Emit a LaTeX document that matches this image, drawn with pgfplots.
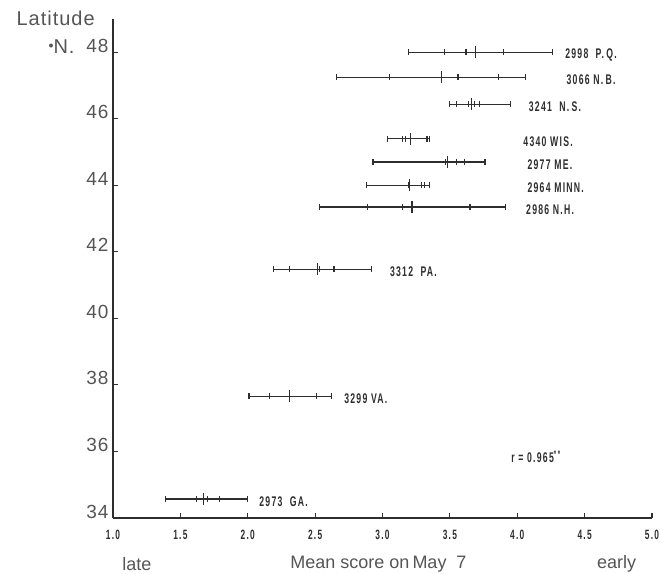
\documentclass[border=0pt]{standalone}
\usepackage{pgfplots}
\pgfplotsset{compat=1.18}
\usepackage{fontspec}
\setmainfont{Liberation Sans}
\newfontfamily\cond{Liberation Sans}[FakeStretch=0.62,LetterSpace=9]
\newfontfamily\spaced{Liberation Sans}[LetterSpace=5]
\definecolor{ink}{HTML}{2E2E2E}
\definecolor{grayink}{HTML}{555555}

\pgfplotsset{
  whisker/.style={ink, line width=1.25pt, mark=|, mark size=3pt, mark options={solid, line width=1.2pt}},
  dots/.style={only marks, ink, mark=|, mark size=3pt, mark options={line width=1.2pt}},
  mean/.style={only marks, ink, mark=|, mark size=6pt, mark options={line width=1.3pt}},
}
\tikzset{
  lab/.style={anchor=west, text=ink, font=\cond\bfseries\fontsize{14}{15}\selectfont, yshift=-2.5pt},
  ttl/.style={text=grayink, font=\fontsize{18}{20}\selectfont},
}

\begin{document}
\begin{tikzpicture}
\useasboundingbox (-113pt,-55pt) rectangle (547pt,518pt);

\begin{axis}[
  scale only axis,
  width=539pt, height=499pt,
  xmin=1, xmax=5,
  ymin=34, ymax=49,
  axis x line=bottom, axis y line=left,
  axis line style={-, ink, line width=1.5pt},
  clip=false,
  xtick={1,1.5,...,5},
  ytick={34,36,...,48},
  tick align=inside,
  major tick length=5pt,
  tick style={ink, line width=1.1pt},
  xticklabel style={/pgf/number format/.cd, fixed, fixed zerofill, precision=1, assume math mode=true, /tikz/.cd,
    font=\cond\bfseries\fontsize{13.5}{14}\selectfont, text=ink, yshift=-9pt},
  yticklabel style={/pgf/number format/assume math mode=true,
    font=\spaced\fontsize{19}{21}\selectfont, text=grayink, anchor=base east, xshift=-1pt},
]

% 2998 P.Q.
\addplot[whisker] coordinates {(3.19,48.0) (4.26,48.0)};
\addplot[dots] coordinates {(3.46,48.0) (3.62,48.0) (3.90,48.0)};
\addplot[mean] coordinates {(3.69,48.0)};
\node[lab] at (axis cs:4.33,48.0) {2998\ \ P.\,Q.};

% 3066 N.B.
\addplot[whisker] coordinates {(2.66,47.25) (4.06,47.25)};
\addplot[dots] coordinates {(3.05,47.25) (3.56,47.25) (3.86,47.25)};
\addplot[mean] coordinates {(3.44,47.25)};
\node[lab] at (axis cs:4.34,47.25) {3066 N.\,B.};

% 3241 N.S.
\addplot[whisker] coordinates {(3.50,46.43) (3.95,46.43)};
\addplot[dots] coordinates {(3.55,46.43) (3.64,46.43) (3.68,46.43) (3.72,46.43)};
\addplot[mean] coordinates {(3.66,46.43)};
\node[lab] at (axis cs:4.06,46.43) {3241\ \ N.\,S.};

% 4340 WIS.
\addplot[whisker] coordinates {(3.04,45.40) (3.35,45.40)};
\addplot[dots] coordinates {(3.15,45.40) (3.17,45.40) (3.33,45.40)};
\addplot[mean] coordinates {(3.21,45.40)};
\node[lab] at (axis cs:4.02,45.40) {4340 WIS.};

% 2977 ME.
\addplot[whisker] coordinates {(2.93,44.70) (3.76,44.70)};
\addplot[dots] coordinates {(3.47,44.70) (3.55,44.70) (3.61,44.70)};
\addplot[mean] coordinates {(3.48,44.70)};
\node[lab] at (axis cs:4.05,44.70) {2977 ME.};

% 2964 MINN.
\addplot[whisker] coordinates {(2.88,44.0) (3.35,44.0)};
\addplot[dots] coordinates {(3.19,44.0) (3.29,44.0) (3.31,44.0)};
\addplot[mean] coordinates {(3.20,44.0)};
\node[lab] at (axis cs:4.05,44.0) {2964 MINN.};

% 2986 N.H.
\addplot[whisker] coordinates {(2.53,43.35) (3.91,43.35)};
\addplot[dots] coordinates {(2.89,43.35) (3.15,43.35) (3.65,43.35)};
\addplot[mean] coordinates {(3.22,43.35)};
\node[lab] at (axis cs:4.04,43.35) {2986 N.H.};

% 3312 PA.
\addplot[whisker] coordinates {(2.19,41.47) (2.92,41.47)};
\addplot[dots] coordinates {(2.31,41.47) (2.53,41.47) (2.64,41.47)};
\addplot[mean] coordinates {(2.52,41.47)};
\node[lab] at (axis cs:3.03,41.47) {3312\ \ PA.};

% 3299 VA.
\addplot[whisker] coordinates {(2.01,37.66) (2.62,37.66)};
\addplot[dots] coordinates {(2.16,37.66) (2.51,37.66)};
\addplot[mean] coordinates {(2.31,37.66)};
\node[lab] at (axis cs:2.69,37.66) {3299 VA.};

% 2973 GA.
\addplot[whisker] coordinates {(1.39,34.57) (2.00,34.57)};
\addplot[dots] coordinates {(1.62,34.57) (1.70,34.57) (1.79,34.57)};
\addplot[mean] coordinates {(1.67,34.57)};
\node[lab] at (axis cs:2.06,34.57) {2973\ \ GA.};

\node[lab] at (axis cs:3.93,35.92) {r = 0.965\textsuperscript{*\,*}};

% axis titles
\node[ttl, font=\spaced\fontsize{20}{22}\selectfont, anchor=west] at (axis cs:1,34) [xshift=-100pt, yshift=500pt] {Latitude};
\node[ttl, font=\spaced\fontsize{20}{22}\selectfont, anchor=west] at (axis cs:1,34) [xshift=-68pt, yshift=471pt] {\raisebox{0.55ex}{\fontsize{10}{10}\selectfont$\bullet$}N.};
\node[ttl] at (axis cs:1,34) [xshift=24pt, yshift=-46pt] {late};
\node[ttl] at (axis cs:3,34) [xshift=-4pt, yshift=-46pt] {Mean score on\,May\ \ 7};
\node[ttl] at (axis cs:4.5,34) [xshift=32pt, yshift=-46pt] {early};

\end{axis}
\end{tikzpicture}
\end{document}
